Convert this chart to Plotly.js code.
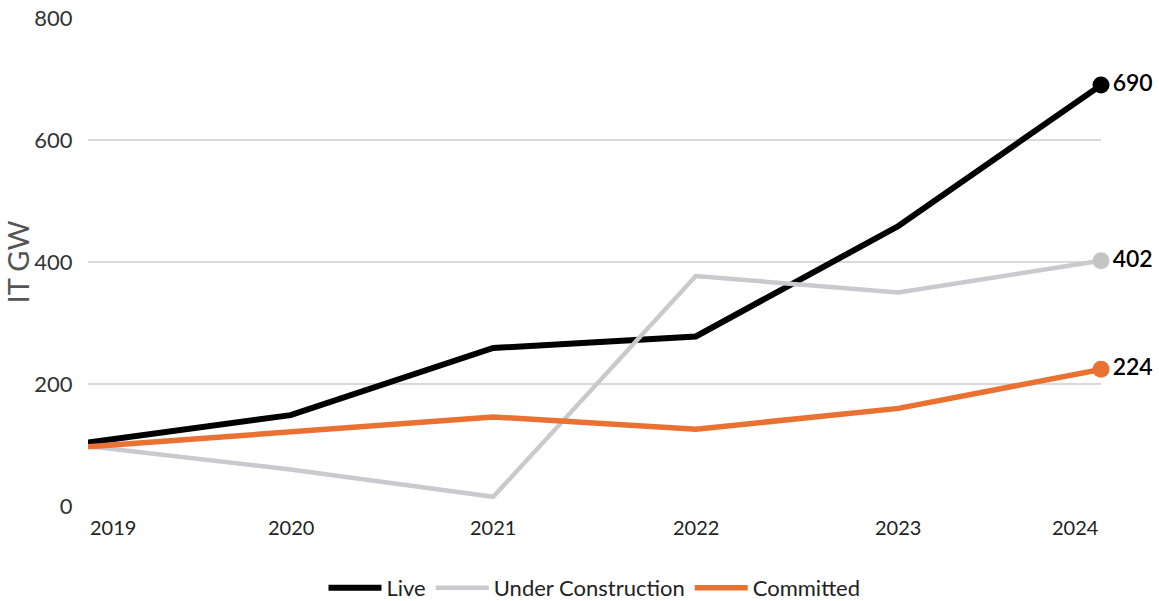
<!DOCTYPE html>
<html>
<head>
<meta charset="utf-8">
<script src="https://cdn.plot.ly/plotly-3.0.1.min.js"></script>
<style>html,body{margin:0;padding:0;background:#fff;}#chart{width:1159px;height:601px;}</style>
</head>
<body>
<div id="chart"></div>
<script>
const years = [2019, 2020, 2021, 2022, 2023, 2024];
const live = [104, 149, 259, 278, 459, 690];
const underConstruction = [98, 60, 15, 377, 350, 402];
const committed = [97, 122, 146, 126, 160, 224];
const seriesNames = ['Live', 'Under Construction', 'Committed'];
const yTicks = [0, 200, 400, 600, 800];

const colors = ['#000000', '#C9C9CE', '#E97132'];
const markerColors = ['#000000', '#C4C4C4', '#E97132'];
const widths = [6, 4.5, 5.5];
const allSeries = [live, underConstruction, committed];

const traces = [];
allSeries.forEach((vals, i) => {
  traces.push({
    x: years, y: vals, type: 'scatter', mode: 'lines', name: seriesNames[i],
    line: {color: colors[i], width: widths[i]},
    cliponaxis: false, hoverinfo: 'skip'
  });
});
allSeries.forEach((vals, i) => {
  const last = vals.length - 1;
  traces.push({
    x: [years[last]], y: [vals[last]], type: 'scatter', mode: 'markers+text',
    text: [String(vals[last])], textposition: 'middle right',
    textfont: {family: 'Lato, sans-serif', size: 23, color: '#000', weight: 600},
    marker: {color: markerColors[i], size: 17},
    showlegend: false, cliponaxis: false, hoverinfo: 'skip'
  });
});

// x-axis year labels: first left-aligned, last right-aligned, others centered
const annotations = years.map((yr, i) => ({
  x: yr, y: 0, xref: 'x', yref: 'paper', yanchor: 'top', yshift: -7,
  xanchor: i === 0 ? 'left' : (i === years.length - 1 ? 'right' : 'center'),
  text: String(yr), showarrow: false,
  font: {family: 'Lato, sans-serif', size: 20, color: '#222'}
}));

const layout = {
  width: 1159, height: 601,
  margin: {l: 88, r: 58, t: 18, b: 95, autoexpand: false},
  paper_bgcolor: '#fff', plot_bgcolor: '#fff',
  font: {family: 'Lato, sans-serif', color: '#222'},
  xaxis: {
    range: [2019, 2024], tickvals: years, showticklabels: false,
    showgrid: false, zeroline: false, showline: false, automargin: false, ticks: ''
  },
  yaxis: {
    range: [0, 800], tickvals: yTicks, showgrid: true, gridcolor: '#D9D9DC', gridwidth: 1.5,
    zeroline: false, showline: false, automargin: false,
    tickfont: {size: 22, color: '#333'}, ticks: 'outside', ticklen: 10, tickcolor: 'rgba(0,0,0,0)',
    title: {text: 'IT GW', font: {size: 29, color: '#555'}, standoff: 1}
  },
  annotations: annotations,
  legend: {
    orientation: 'h', x: 0.5, xanchor: 'center', y: -0.168, yanchor: 'middle',
    font: {family: 'Lato, sans-serif', size: 22, color: '#222'},
    itemwidth: 53, tracegroupgap: 0
  },
  showlegend: true
};

Plotly.newPlot('chart', traces, layout, {displayModeBar: false, staticPlot: true});
</script>
</body>
</html>
